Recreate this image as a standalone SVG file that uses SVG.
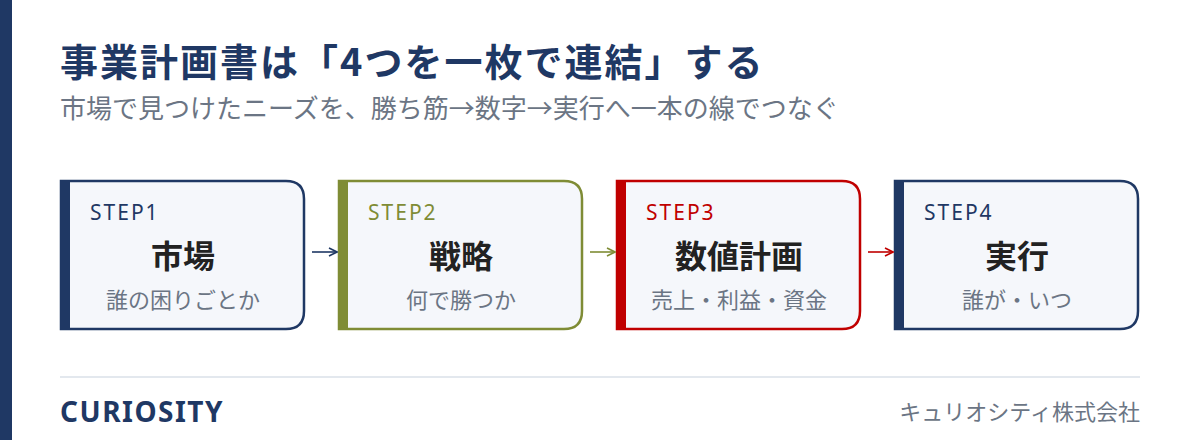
<svg xmlns="http://www.w3.org/2000/svg" width="1200" height="440" viewBox="0 0 1200 440">
<style>
.jp{font-family:"Noto Sans CJK JP","Noto Sans",sans-serif}
.step{font-family:"Noto Sans","Noto Sans CJK JP",sans-serif;font-size:21px;letter-spacing:2px}
.ttl{font-family:"Noto Sans CJK JP",sans-serif;font-size:32px;font-weight:700;fill:#222;text-anchor:middle}
.sub{font-family:"Noto Sans CJK JP",sans-serif;font-size:22px;fill:#6b7584;text-anchor:middle}
.box{fill:#f5f7fb;stroke-width:2.5}
</style>
<defs>
<marker id="ah" viewBox="0 0 10 10" refX="9" refY="5" markerWidth="10" markerHeight="10" markerUnits="userSpaceOnUse" orient="auto"><path d="M1,1 L9,5 L1,9" fill="none" stroke="context-stroke" stroke-width="1.6"/></marker>
</defs>
<rect x="0" y="0" width="1200" height="440" fill="#ffffff"/>
<rect x="0" y="0" width="12" height="440" fill="#1f3864"/>
<text x="60" y="76" class="jp" font-size="38" font-weight="700" letter-spacing="2" fill="#1f3864">事業計画書は「4つを一枚で連結」する</text>
<text x="60" y="118" class="jp" font-size="26" fill="#6b7584">市場で見つけたニーズを、勝ち筋→数字→実行へ一本の線でつなぐ</text>
<g id="step1">
<path class="box" stroke="#1f3864" d="M61,181 H286 Q304,181 304,199 V311 Q304,329 286,329 H61 Z"/>
<rect x="60" y="180" width="10" height="150" fill="#1f3864"/>
<text x="90" y="220" class="step" fill="#1f3864">STEP1</text>
<text x="183" y="268" class="ttl">市場</text>
<text x="183" y="308" class="sub">誰の困りごとか</text>
</g>
<g id="step2">
<path class="box" stroke="#7f8c35" d="M339,181 H564 Q582,181 582,199 V311 Q582,329 564,329 H339 Z"/>
<rect x="338" y="180" width="10" height="150" fill="#7f8c35"/>
<text x="368" y="220" class="step" fill="#7f8c35">STEP2</text>
<text x="461" y="268" class="ttl">戦略</text>
<text x="461" y="308" class="sub">何で勝つか</text>
</g>
<g id="step3">
<path class="box" stroke="#c00000" d="M617,181 H842 Q860,181 860,199 V311 Q860,329 842,329 H617 Z"/>
<rect x="616" y="180" width="10" height="150" fill="#c00000"/>
<text x="646" y="220" class="step" fill="#c00000">STEP3</text>
<text x="739" y="268" class="ttl">数値計画</text>
<text x="739" y="308" class="sub">売上・利益・資金</text>
</g>
<g id="step4">
<path class="box" stroke="#1f3864" d="M895,181 H1120 Q1138,181 1138,199 V311 Q1138,329 1120,329 H895 Z"/>
<rect x="894" y="180" width="10" height="150" fill="#1f3864"/>
<text x="924" y="220" class="step" fill="#1f3864">STEP4</text>
<text x="1017" y="268" class="ttl">実行</text>
<text x="1017" y="308" class="sub">誰が・いつ</text>
</g>
<g id="connectors" fill="none" stroke-width="1.6">
<line x1="312" y1="252" x2="337" y2="252" stroke="#1f3864" marker-end="url(#ah)"/>
<line x1="590" y1="252" x2="615" y2="252" stroke="#7f8c35" marker-end="url(#ah)"/>
<line x1="868" y1="252" x2="893" y2="252" stroke="#c00000" marker-end="url(#ah)"/>
</g>
<line x1="60" y1="377" x2="1140" y2="377" stroke="#e3e8ee" stroke-width="2"/>
<text x="60" y="422" font-family="Noto Sans, sans-serif" font-size="28" font-weight="700" letter-spacing="1.5" fill="#1f3864">CURIOSITY</text>
<text x="1140" y="420" class="jp" font-size="22" fill="#6b7584" text-anchor="end">キュリオシティ株式会社</text>
</svg>
